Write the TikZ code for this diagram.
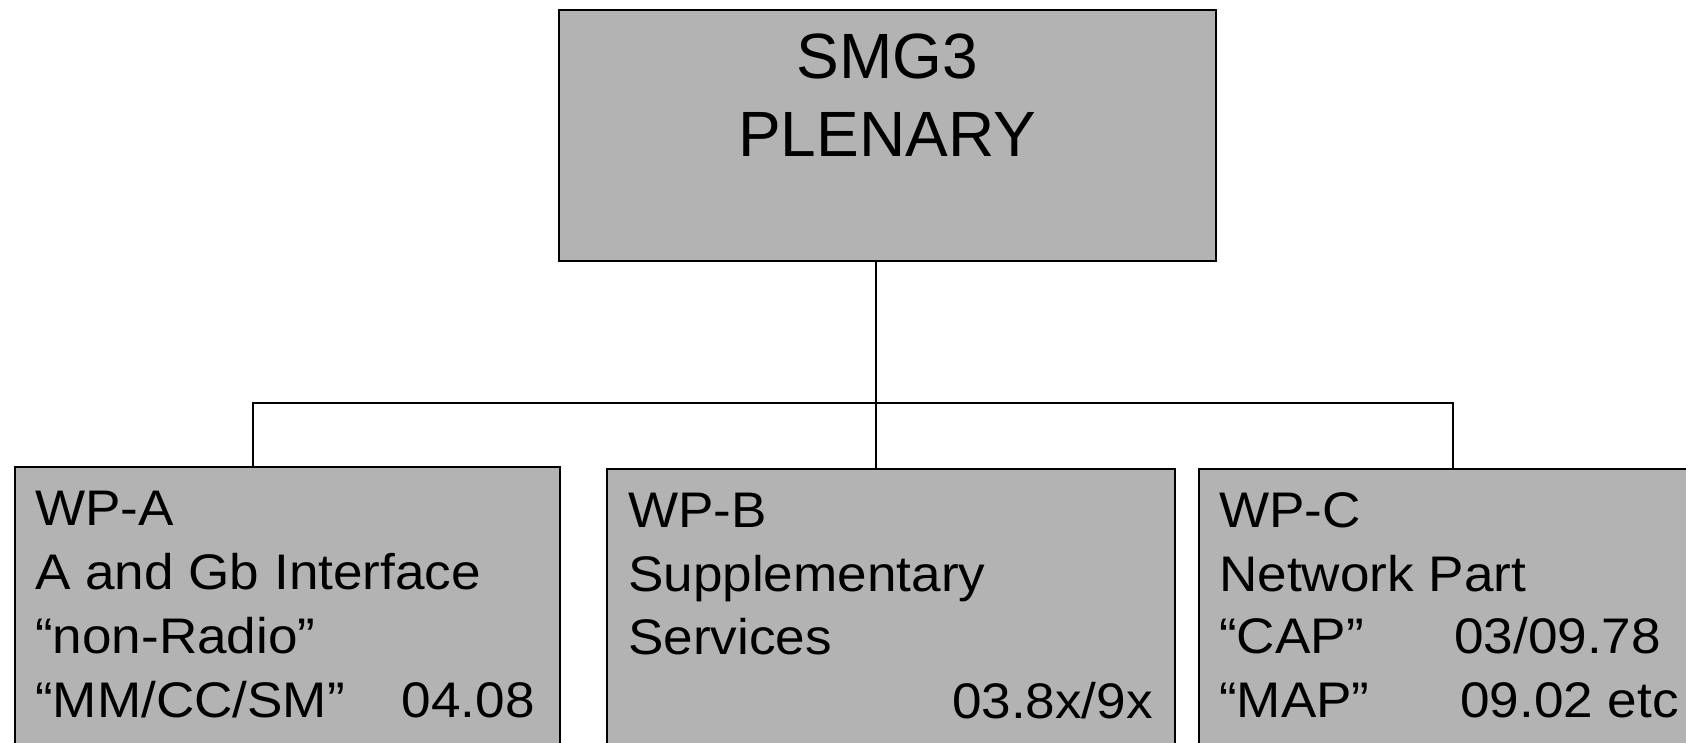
\documentclass[tikz,border=0pt]{standalone}
\usepackage{fontspec}
\setmainfont{Liberation Sans}
\newfontfamily\widesans[FakeStretch=1.062]{Liberation Sans}
\definecolor{boxgray}{RGB}{179,179,179}
\begin{document}
\begin{tikzpicture}[x=1pt,y=-1pt,
  box/.style={draw=black, line width=2pt, fill=boxgray, inner sep=0, anchor=north west},
  conn/.style={line width=2pt},
  big/.style={font=\fontsize{64}{77}\selectfont, anchor=base, inner sep=0},
  txt/.style={font=\widesans\fontsize{50}{64}\selectfont, anchor=base west, inner sep=0},
  rtxt/.style={font=\widesans\fontsize{50}{64}\selectfont, anchor=base east, inner sep=0}]
\useasboundingbox (0,0) rectangle (1686,742);
\clip (0,0) rectangle (1686,742);
% boxes
\node[box, minimum width=657pt, minimum height=251pt] (top) at (558,9) {};
\node[box, minimum width=545pt, minimum height=320pt] (A) at (14,466) {};
\node[box, minimum width=568pt, minimum height=320pt] (B) at (606,468) {};
\node[box, minimum width=540pt, minimum height=320pt] (C) at (1198,468) {};
% connectors
\coordinate (j) at (876,403);
\coordinate (bl) at (253,403);
\coordinate (br) at (1453,403);
\draw[conn] (j |- top.south) -- (j);
\draw[conn] (bl |- A.north) -- (bl) -- (br) -- (br |- C.north);
\draw[conn] (j) -- (j |- B.north);
% top text
\node[big] (t1) at (887,78) {SMG3};
\node[big] (t2) at (887,156) {PLENARY};
% box A text
\node[txt] (a1) at (35,525) {WP-A};
\node[txt] (a2) at (35,589) {A and Gb Interface};
\node[txt] (a3) at (35,653) {“non-Radio”};
\node[txt] (a4) at (35,717) {“MM/CC/SM”};
\node[rtxt] (a5) at (535,717) {04.08};
% box B text
\node[txt] (b1) at (628,527) {WP-B};
\node[txt] (b2) at (628,591) {Supplementary};
\node[txt] (b3) at (628,654) {Services};
\node[rtxt] (b4) at (1153,718) {03.8x/9x};
% box C text
\node[txt] (c1) at (1219,527) {WP-C};
\node[txt] (c2) at (1219,591) {Network Part};
\node[txt] (c3) at (1219,653) {“CAP”};
\node[txt] (c4) at (1454,653) {03/09.78};
\node[txt] (c5) at (1219,717) {“MAP”};
\node[txt] (c6) at (1460,717) {09.02 etc};
\end{tikzpicture}
\end{document}
